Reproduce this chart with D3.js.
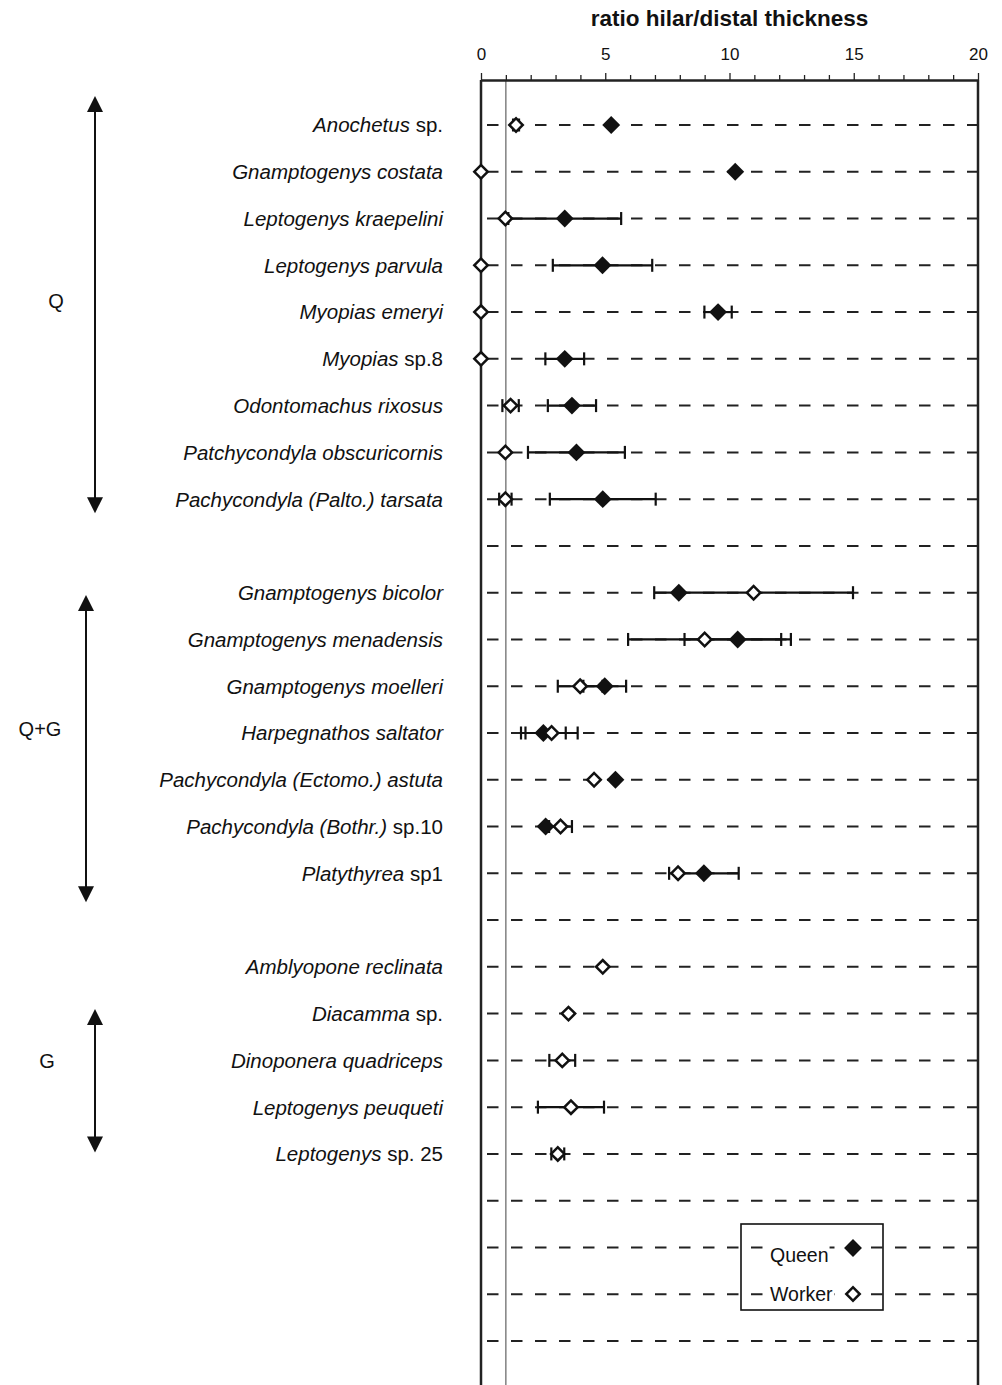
<!DOCTYPE html>
<html>
<head>
<meta charset="utf-8">
<script src="https://cdn.jsdelivr.net/npm/d3@7"></script>
<style>
  body { margin: 0; background: #fff; }
  text { font-family: "Liberation Sans", Arial, sans-serif; fill: #111; }
</style>
</head>
<body>
<div id="chart"></div>
<script>
// species rows, top to bottom ("" = empty row)
const labelItalic = [
  "Anochetus", "Gnamptogenys costata", "Leptogenys kraepelini", "Leptogenys parvula",
  "Myopias emeryi", "Myopias", "Odontomachus rixosus", "Patchycondyla obscuricornis",
  "Pachycondyla (Palto.) tarsata", "",
  "Gnamptogenys bicolor", "Gnamptogenys menadensis", "Gnamptogenys moelleri",
  "Harpegnathos saltator", "Pachycondyla (Ectomo.) astuta", "Pachycondyla (Bothr.)",
  "Platythyrea", "",
  "Amblyopone reclinata", "Diacamma", "Dinoponera quadriceps", "Leptogenys peuqueti",
  "Leptogenys", "", "", "", ""
];
const labelRoman = [
  " sp.", "", "", "", "", " sp.8", "", "", "", "",
  "", "", "", "", "", " sp.10", " sp1", "",
  "", " sp.", "", "", " sp. 25", "", "", "", ""
];

const queenVal = [5.24, 10.23, 3.37, 4.89, 9.54, 3.37, 3.66, 3.84, 4.9, null,
  7.96, 10.33, 4.98, 2.51, 5.41, 2.6, 8.97, null,
  null, null, null, null, null, null, null, null, null];
const queenErr = [0, 0, 2.27, 2.0, 0.55, 0.78, 0.97, 1.95, 2.13, 0,
  0, 2.14, 0.86, 0.9, 0, 0, 1.4, 0,
  0, 0, 0, 0, 0, 0, 0, 0, 0];
const workerVal = [1.41, 0, 0.98, 0, 0, 0, 1.19, 0.98, 0.98, null,
  10.97, 9.0, 3.99, 2.84, 4.55, 3.2, 7.93, null,
  4.9, 3.52, 3.27, 3.62, 3.09, null, null, null, null];
const workerErr = [0.12, 0, 0, 0, 0, 0, 0.33, 0, 0.25, 0,
  4.0, 3.08, 0.9, 1.05, 0, 0.46, 0, 0,
  0, 0, 0.52, 1.33, 0.26, 0, 0, 0, 0];

const xTicks = d3.range(0, 21);

// caste groups, given as fractional row positions
const groupNames = ["Q", "Q+G", "G"];
const groupStart = [-0.62, 10.05, 18.9];
const groupEnd = [8.3, 16.62, 21.97];
const groupLabelRow = [3.75, 12.9, 20.0];

const W = 1002, H = 1385;
const svg = d3.select("#chart").append("svg")
  .attr("width", W).attr("height", H);

const x = d3.scaleLinear().domain([0, 20]).range([481, 978]);
const rowY = d3.scaleLinear().domain([0, labelItalic.length - 1]).range([125, 1341]);
const rows = d3.range(labelItalic.length);
const axisY = 80;

// title
svg.append("text")
  .attr("x", (x(0) + x(20)) / 2).attr("y", 26)
  .attr("text-anchor", "middle")
  .style("font-size", "22.5px").style("font-weight", "bold")
  .text("ratio hilar/distal thickness");

// dashed row lines
svg.append("g").selectAll("line").data(rows).join("line")
  .attr("x1", x(0)).attr("x2", x(20))
  .attr("y1", d => rowY(d)).attr("y2", d => rowY(d))
  .attr("stroke", "#222").attr("stroke-width", 2)
  .attr("stroke-dasharray", "11.5,12.5")
  .attr("stroke-dashoffset", 18);

// reference line at ratio 1
svg.append("line")
  .attr("x1", x(1)).attr("x2", x(1)).attr("y1", axisY).attr("y2", H)
  .attr("stroke", "#777").attr("stroke-width", 1.4);

// frame sides
svg.append("g").selectAll("line").data([0, 20]).join("line")
  .attr("x1", d => x(d)).attr("x2", d => x(d)).attr("y1", axisY).attr("y2", H)
  .attr("stroke", "#222").attr("stroke-width", 2.5);

// top axis
const axis = d3.axisTop(x).tickValues(xTicks).tickSize(5).tickSizeOuter(0)
  .tickPadding(15)
  .tickFormat(d => d % 5 === 0 ? d : "");
const gAx = svg.append("g").attr("transform", `translate(0,${axisY})`).call(axis);
gAx.select(".domain").attr("stroke", "#222").attr("stroke-width", 2.5);
gAx.selectAll(".tick line").attr("stroke", "#222").attr("stroke-width", 1.3)
  .attr("y2", d => d % 5 === 0 ? -7 : -5);
gAx.selectAll(".tick text").style("font-size", "17px")
  .style("font-family", "'Liberation Sans', Arial, sans-serif").attr("fill", "#111");

// species labels
const lab = svg.append("g").selectAll("text").data(rows.filter(i => labelItalic[i] !== ""))
  .join("text")
  .attr("x", 443).attr("y", d => rowY(d)).attr("dy", "0.36em")
  .attr("text-anchor", "end")
  .style("font-size", "20.5px");
lab.append("tspan").style("font-style", "italic").text(d => labelItalic[d]);
lab.append("tspan").text(d => labelRoman[d]);

// error bars
function errorBars(vals, errs) {
  const idx = rows.filter(i => vals[i] !== null && errs[i] > 0);
  const g = svg.append("g").attr("stroke", "#111").attr("stroke-width", 2.2);
  g.selectAll("line.bar").data(idx).join("line").attr("class", "bar")
    .attr("x1", d => x(vals[d] - errs[d])).attr("x2", d => x(vals[d] + errs[d]))
    .attr("y1", d => rowY(d)).attr("y2", d => rowY(d));
  g.selectAll("line.capL").data(idx).join("line").attr("class", "capL")
    .attr("x1", d => x(vals[d] - errs[d])).attr("x2", d => x(vals[d] - errs[d]))
    .attr("y1", d => rowY(d) - 6.5).attr("y2", d => rowY(d) + 6.5);
  g.selectAll("line.capR").data(idx).join("line").attr("class", "capR")
    .attr("x1", d => x(vals[d] + errs[d])).attr("x2", d => x(vals[d] + errs[d]))
    .attr("y1", d => rowY(d) - 6.5).attr("y2", d => rowY(d) + 6.5);
}
errorBars(queenVal, queenErr);
errorBars(workerVal, workerErr);

const queenSym = d3.symbol(d3.symbolSquare, 160);
const workerSym = d3.symbol(d3.symbolSquare, 90);

svg.append("g").selectAll("path").data(rows.filter(i => queenVal[i] !== null)).join("path")
  .attr("d", queenSym)
  .attr("transform", d => `translate(${x(queenVal[d])},${rowY(d)}) rotate(45)`)
  .attr("fill", "#111");

svg.append("g").selectAll("path").data(rows.filter(i => workerVal[i] !== null)).join("path")
  .attr("d", workerSym)
  .attr("transform", d => `translate(${x(workerVal[d])},${rowY(d)}) rotate(45)`)
  .attr("fill", "#fff").attr("stroke", "#111").attr("stroke-width", 2.5);

// group arrows
const grp = svg.append("g");
groupNames.forEach((name, i) => {
  const ax = name === "Q+G" ? 86 : 95;
  const y1 = rowY(groupStart[i]), y2 = rowY(groupEnd[i]);
  grp.append("line").attr("x1", ax).attr("x2", ax)
    .attr("y1", y1 + 10).attr("y2", y2 - 10)
    .attr("stroke", "#111").attr("stroke-width", 2);
  grp.append("path").attr("d", `M${ax},${y1} L${ax - 8},${y1 + 16} L${ax + 8},${y1 + 16} Z`).attr("fill", "#111");
  grp.append("path").attr("d", `M${ax},${y2} L${ax - 8},${y2 - 16} L${ax + 8},${y2 - 16} Z`).attr("fill", "#111");
  const lx = name === "Q" ? 56 : name === "Q+G" ? 40 : 47;
  grp.append("text").attr("x", lx).attr("y", rowY(groupLabelRow[i])).attr("dy", "0.36em")
    .attr("text-anchor", "middle").style("font-size", "20px").text(name);
});

// legend
const leg = svg.append("g");
leg.append("rect").attr("x", 741).attr("y", 1224).attr("width", 142).attr("height", 86)
  .attr("fill", "none").attr("stroke", "#111").attr("stroke-width", 1.6);
const legItems = [["Queen", true, 1248, 1255], ["Worker", false, 1294, 1294]];
legItems.forEach(([name, filled, my, ty]) => {
  const t = leg.append("text").attr("x", 770).attr("y", ty).attr("dy", "0.36em")
    .style("font-size", "19.5px").text(name);
  const bb = t.node().getBBox();
  leg.insert("rect", "text").attr("x", bb.x - 1).attr("y", bb.y)
    .attr("width", bb.width + 2).attr("height", bb.height).attr("fill", "#fff");
  leg.append("path").attr("d", filled ? queenSym : workerSym)
    .attr("transform", `translate(853,${my}) rotate(45)`)
    .attr("fill", filled ? "#111" : "#fff")
    .attr("stroke", filled ? "none" : "#111").attr("stroke-width", 2.5);
});
</script>
</body>
</html>
